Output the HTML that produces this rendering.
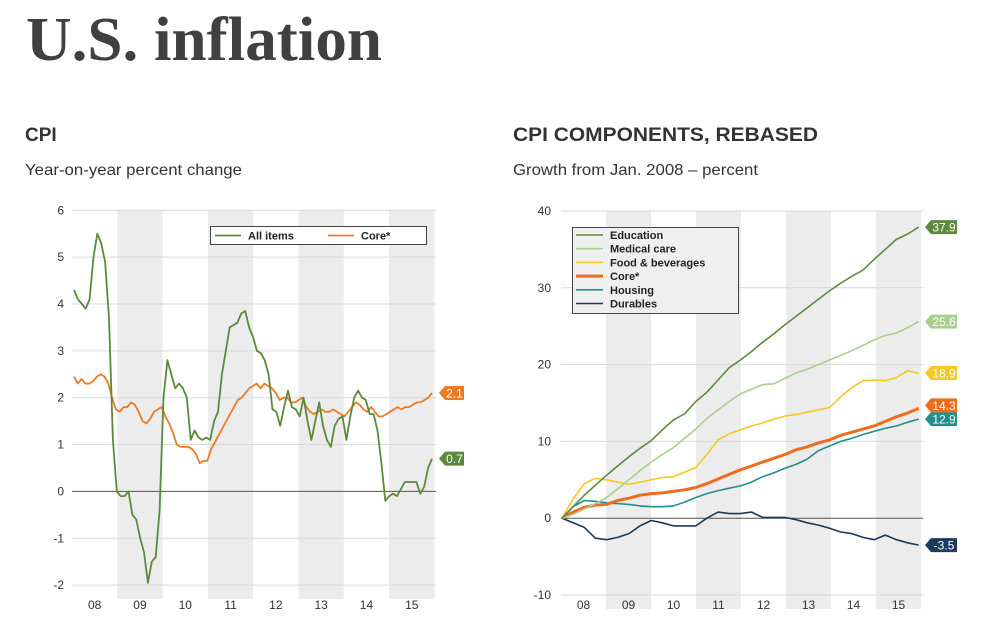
<!DOCTYPE html>
<html><head><meta charset="utf-8"><style>
html,body{margin:0;padding:0;background:#fff;}
svg{display:block;font-family:"Liberation Sans",Arial,sans-serif;}
</style></head><body>
<svg id="root" width="981" height="634" viewBox="0 0 981 634">
<text x="26" y="60" font-family="Liberation Serif,serif" font-weight="bold" font-size="62" fill="#404040" textLength="356" lengthAdjust="spacingAndGlyphs">U.S. inflation</text>
<text x="25" y="141" font-size="19" font-weight="bold" fill="#333">CPI</text>
<text x="25" y="175" font-size="16" fill="#333" textLength="217" lengthAdjust="spacingAndGlyphs">Year-on-year percent change</text>
<text x="513" y="141" font-size="19" font-weight="bold" fill="#333" textLength="305" lengthAdjust="spacingAndGlyphs">CPI COMPONENTS, REBASED</text>
<text x="513" y="175" font-size="16" fill="#333" textLength="245" lengthAdjust="spacingAndGlyphs">Growth from Jan. 2008 – percent</text>
<g id="left"></g>
<g id="right"></g>
</svg>
<script>
const years = ["08","09","10","11","12","13","14","15"];
const leftTicks = [6,5,4,3,2,1,0,-1,-2];
const rightTicks = [40,30,20,10,0,-10];
const allItems = [4.3,4.1,4.0,3.9,4.1,5.0,5.5,5.3,4.9,3.7,1.1,0.0,
 -0.1,-0.1,0.0,-0.5,-0.6,-1.0,-1.3,-1.95,-1.5,-1.4,-0.4,2.0,
 2.8,2.5,2.2,2.3,2.2,2.0,1.1,1.3,1.15,1.1,1.15,1.1,
 1.5,1.7,2.5,3.0,3.5,3.55,3.6,3.8,3.85,3.5,3.3,3.0,
 2.95,2.8,2.5,1.75,1.7,1.4,1.8,2.15,1.8,1.75,1.6,2.0,
 1.5,1.1,1.5,1.9,1.4,1.1,0.95,1.4,1.55,1.6,1.1,1.6,
 2.0,2.15,2.0,1.95,1.65,1.65,1.3,0.6,-0.2,-0.1,-0.05,-0.1,
 0.05,0.2,0.2,0.2,0.2,-0.05,0.1,0.5,0.7];
const core = [2.45,2.3,2.4,2.3,2.3,2.35,2.45,2.5,2.45,2.3,2.0,1.75,
 1.7,1.8,1.8,1.9,1.85,1.7,1.5,1.45,1.55,1.7,1.75,1.8,
 1.6,1.45,1.25,1.0,0.95,0.95,0.95,0.9,0.8,0.6,0.65,0.65,
 0.9,1.05,1.2,1.35,1.5,1.65,1.8,1.95,2.0,2.1,2.2,2.25,
 2.3,2.2,2.3,2.25,2.2,2.1,1.95,2.0,2.0,1.9,1.9,1.95,
 2.0,1.8,1.7,1.65,1.7,1.75,1.7,1.7,1.75,1.7,1.65,1.6,
 1.7,1.8,1.9,1.85,1.75,1.7,1.8,1.7,1.6,1.6,1.65,1.7,
 1.75,1.8,1.75,1.8,1.8,1.85,1.9,1.9,1.95,2.0,2.1];
const education = [0,1.5,3,4.3,5.6,6.8,8,9.1,10.1,11.5,12.8,13.6,15.2,16.4,18,19.6,20.6,21.7,22.9,24,25.2,26.3,27.4,28.5,29.6,30.6,31.5,32.3,33.7,35,36.3,37,37.9];
const medical = [0,0.5,1.2,1.9,2.7,3.8,5,6.2,7.3,8.3,9.2,10.4,11.6,13,14.1,15.2,16.2,16.8,17.4,17.5,18.2,18.9,19.4,20,20.6,21.2,21.8,22.5,23.2,23.8,24.1,24.8,25.6];
const food = [0,2.5,4.5,5.2,5,4.7,4.4,4.7,5,5.3,5.4,6,6.6,8.3,10.2,11,11.5,12,12.4,12.9,13.3,13.5,13.8,14.1,14.4,15.8,17,17.9,18,17.9,18.3,19.2,18.9];
const coreIdx = [0,0.8,1.4,1.7,1.8,2.3,2.6,3,3.2,3.3,3.5,3.7,4,4.5,5.1,5.7,6.3,6.8,7.3,7.8,8.3,8.9,9.3,9.8,10.2,10.8,11.2,11.6,12,12.6,13.2,13.7,14.3];
const housing = [0,1.5,2.3,2.2,2.0,1.9,1.8,1.6,1.5,1.5,1.6,2.1,2.7,3.2,3.6,3.9,4.2,4.7,5.4,5.9,6.5,7,7.7,8.8,9.4,10,10.4,10.9,11.3,11.7,12,12.5,12.9];
const durables = [0,-0.6,-1.2,-2.6,-2.8,-2.5,-2,-1,-0.3,-0.6,-1,-1,-1,0,0.8,0.6,0.6,0.8,0.1,0.1,0.1,-0.2,-0.6,-0.9,-1.3,-1.8,-2,-2.5,-2.8,-2.2,-2.8,-3.2,-3.5];

const NS="http://www.w3.org/2000/svg";
function mk(parent,tag,attrs){const e=document.createElementNS(NS,tag);for(const k in attrs)e.setAttribute(k,attrs[k]);parent.appendChild(e);return e;}

function drawChart(g,cfg){
  const x0=cfg.x0,x1=cfg.x1,yw=cfg.yw;
  const ys=v=>cfg.yZero-(v*cfg.ppu);
  const top=ys(cfg.ticks[0]), bot=ys(cfg.ticks[cfg.ticks.length-1])+14;
  years.forEach((y,i)=>{
    if(i%2===1){const r=mk(g,'rect',{x:x0+i*yw,y:top,width:yw,height:bot-top,fill:'#ececec'});
      
      }
    const t=mk(g,'text',{x:x0+(i+0.5)*yw,y:cfg.xLabY,'text-anchor':'middle','font-size':12,fill:'#333'});
    t.textContent=y;
    
    
  });
  cfg.ticks.forEach(v=>{
    const l=mk(g,'line',{x1:x0,x2:x1,y1:ys(v),y2:ys(v),stroke:v===0?'#555':'#d9d9d9','stroke-width':1});
    
    
    const t=mk(g,'text',{x:cfg.yLabX,y:ys(v)+4,'text-anchor':'end','font-size':12,fill:'#333'});
    t.textContent=String(v);
    
    
  });
  cfg.series.forEach(s=>{
    const n=s.data.length;
    const xs=i=>cfg.xs0+i*(cfg.xs1-cfg.xs0)/(n-1);
    const d=s.data.map((v,i)=>(i?'L':'M')+xs(i).toFixed(1)+','+ys(v).toFixed(1)).join('');
    const p=mk(g,'path',{d:d,fill:'none',stroke:s.color,'stroke-width':s.w,'stroke-linejoin':'round'});
    
    
    const last=s.data[n-1], ly=ys(last)+(s.off||0);
    const fx=cfg.flagX, fw=cfg.flagW;
    const f=mk(g,'path',{d:`M${fx},${ly} L${fx+6},${ly-7} L${fx+fw},${ly-7} L${fx+fw},${ly+7} L${fx+6},${ly+7} Z`,fill:s.color});
    
    
    const ft=mk(g,'text',{x:fx+fw/2+3,y:ly+4.5,'text-anchor':'middle','font-size':12,fill:'#fff'});
    ft.textContent=String(last);
    
    
  });
}

const L=document.getElementById('left');
drawChart(L,{x0:72,x1:436,yw:45.3,yZero:491.4,ppu:46.85,ticks:leftTicks,xLabY:609,yLabX:64,
  xs0:74,xs1:432,flagX:439,flagW:25,
  series:[{name:'core',data:core,color:'#f07a22',w:1.8},{name:'all-items',data:allItems,color:'#5b8a3c',w:1.8}]});
// left legend
(function(){
  const r=mk(L,'rect',{x:210.5,y:226.5,width:216,height:18,fill:'#fff',stroke:'#444','stroke-width':1});
  
  
  const items=[['All items','#5b8a3c',215],['Core*','#f07a22',328]];
  items.forEach(([lab,c,x])=>{
    const l=mk(L,'line',{x1:x,x2:x+26,y1:235.5,y2:235.5,stroke:c,'stroke-width':1.8});
    
    
    const t=mk(L,'text',{x:x+33,y:239.5,'font-size':11,'font-weight':'bold',fill:'#222'});
    t.textContent=lab;
    
    
  });
})();

const R=document.getElementById('right');
drawChart(R,{x0:561,x1:923,yw:45,yZero:518.2,ppu:7.68,ticks:rightTicks,xLabY:609,yLabX:551,
  xs0:562,xs1:918.7,flagX:925,flagW:32,
  series:[
   {name:'durables',data:durables,color:'#1b3a5c',w:1.6},
   {name:'housing',data:housing,color:'#21908c',w:1.6},
   {name:'core',data:coreIdx,color:'#f26a1b',w:3,off:-3},
   {name:'food-beverages',data:food,color:'#f6c823',w:1.6},
   {name:'medical-care',data:medical,color:'#a9d08e',w:1.6},
   {name:'education',data:education,color:'#5f8a3e',w:1.6}]});
(function(){
  const r=mk(R,'rect',{x:572.5,y:227.5,width:166,height:86,fill:'#efefef',stroke:'#444','stroke-width':1});
  
  
  const items=[['Education','#5f8a3e',1.6],['Medical care','#a9d08e',1.6],['Food & beverages','#f6c823',1.6],['Core*','#f26a1b',3],['Housing','#21908c',1.6],['Durables','#1b3a5c',1.6]];
  items.forEach(([lab,c,w],i)=>{
    const y=235+i*13.7;
    const l=mk(R,'line',{x1:576,x2:603,y1:y,y2:y,stroke:c,'stroke-width':w});
    
    
    const t=mk(R,'text',{x:610,y:y+4,'font-size':11,'font-weight':'bold',fill:'#222'});
    t.textContent=lab;
    
    
  });
})();
</script>
</body></html>
